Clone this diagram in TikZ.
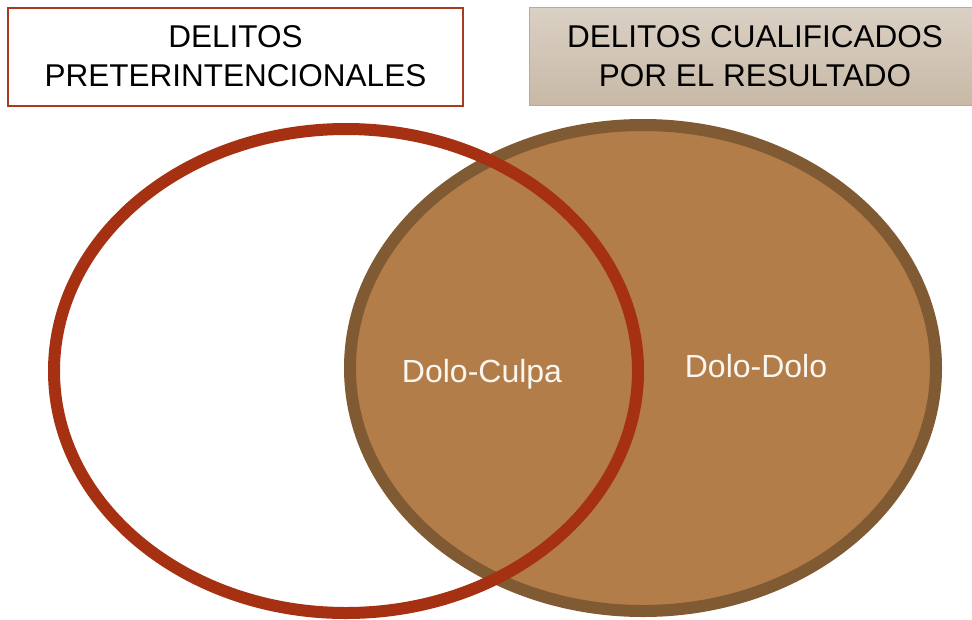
\documentclass[tikz,border=0pt]{standalone}
\usepackage{fontspec}
\setmainfont{Liberation Sans}
\usetikzlibrary{shapes.geometric}
\definecolor{redline}{RGB}{166,48,18}
\definecolor{boxred}{RGB}{168,58,34}
\definecolor{brownfill}{RGB}{179,125,74}
\definecolor{brownline}{RGB}{128,90,50}
\definecolor{tantop}{RGB}{218,208,196}
\definecolor{tanbot}{RGB}{200,185,166}
\definecolor{tanline}{RGB}{184,170,150}
\definecolor{labelwhite}{RGB}{250,246,240}
\tikzset{
  titlebox/.style={draw, line width=2pt, inner sep=0pt, align=center,
    font=\fontsize{31.5}{39}\selectfont, text=black},
  venn/.style={ellipse, inner sep=0pt, line width=12pt},
  venntext/.style={font=\fontsize{32}{38}\selectfont, text=labelwhite, inner sep=0pt, anchor=base}
}
\begin{document}
\begin{tikzpicture}[x=1pt,y=-1pt]
\useasboundingbox (0,0) rectangle (972,619);
\fill[white] (0,0) rectangle (972,619);
% title boxes
\node[titlebox, draw=boxred, fill=white, minimum width=455pt, minimum height=98pt]
  (preter) at (235.5,56.5) {DELITOS\\PRETERINTENCIONALES};
\node[titlebox, draw=tanline, line width=1pt, top color=tantop, bottom color=tanbot,
  minimum width=452pt, minimum height=98pt]
  (cualif) at (755,56.5) {DELITOS CUALIFICADOS\\POR EL RESULTADO};
% ellipses
\node[venn, draw=brownline, fill=brownfill, minimum width=586pt, minimum height=486pt]
  (brown) at (643,368) {};
\node[venn, draw=redline, minimum width=584pt, minimum height=484pt]
  (red) at (346,371) {};
% labels
\node[venntext] (dc) at (482,382) {Dolo-Culpa};
\node[venntext] (dd) at (756,377) {Dolo-Dolo};
\end{tikzpicture}
\end{document}
